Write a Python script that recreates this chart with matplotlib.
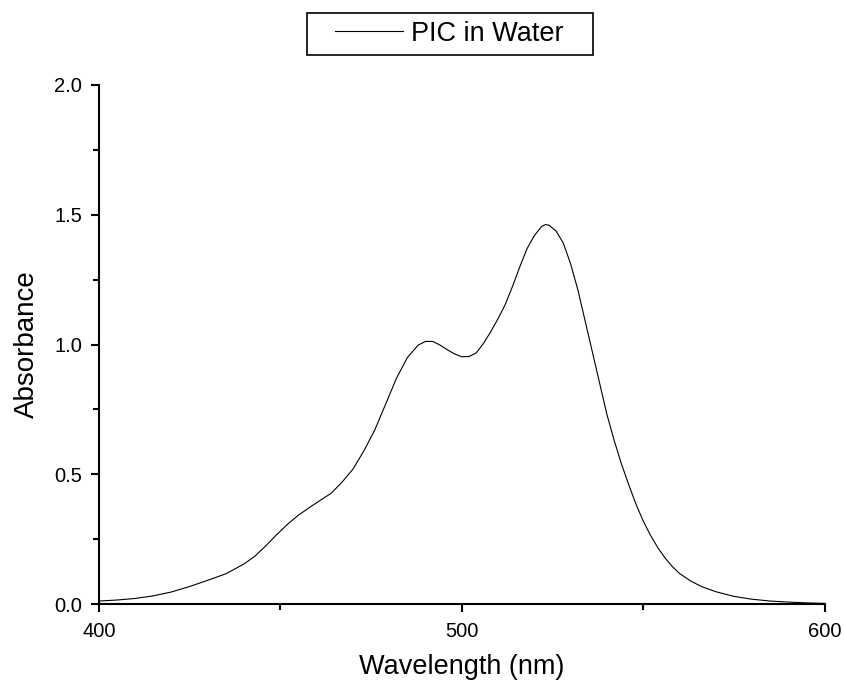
"""Absorption spectrum of PIC in water."""

import matplotlib

matplotlib.use("Agg")
import matplotlib.pyplot as plt
from matplotlib.patches import Rectangle
from matplotlib.ticker import MultipleLocator

# wavelength (nm) and absorbance
wavelength = [
    400, 405, 410, 415, 420, 425, 430, 435, 440, 443, 446, 449, 452, 455,
    458, 461, 464, 467, 470, 473, 476, 479, 482, 485, 488, 490, 492, 494,
    496, 498, 500, 502, 504, 506, 508, 510, 512, 514, 516, 518, 520, 522,
    523, 524, 526, 528, 530, 532, 534, 536, 538, 540, 542, 544, 546, 548,
    550, 552, 554, 556, 558, 560, 563, 566, 570, 575, 580, 585, 590, 595,
    600,
]
absorbance = [
    0.012, 0.016, 0.022, 0.032, 0.047, 0.068, 0.092, 0.117, 0.155, 0.185,
    0.225, 0.268, 0.308, 0.343, 0.372, 0.400, 0.427, 0.470, 0.520, 0.590,
    0.670, 0.770, 0.870, 0.950, 0.998, 1.012, 1.012, 0.998, 0.980, 0.964,
    0.953, 0.954, 0.968, 1.005, 1.050, 1.100, 1.155, 1.225, 1.300, 1.370,
    1.420, 1.455, 1.462, 1.460, 1.437, 1.390, 1.310, 1.210, 1.090, 0.970,
    0.850, 0.730, 0.630, 0.540, 0.460, 0.385, 0.320, 0.265, 0.218, 0.178,
    0.145, 0.118, 0.090, 0.068, 0.048, 0.030, 0.019, 0.012, 0.008, 0.005,
    0.003,
]
series_label = "PIC in Water"

plt.rcParams["font.family"] = ["Liberation Sans", "DejaVu Sans"]

fig = plt.figure(figsize=(8.45, 6.85), dpi=100)
ax = fig.add_axes([0.117, 0.118, 0.859, 0.758])

ax.plot(wavelength, absorbance, color="black", linewidth=0.8, label=series_label)

ax.set_xlim(400, 600)
ax.set_ylim(0, 2.0)
ax.xaxis.set_major_locator(MultipleLocator(100))
ax.xaxis.set_minor_locator(MultipleLocator(50))
ax.yaxis.set_major_locator(MultipleLocator(0.5))
ax.yaxis.set_minor_locator(MultipleLocator(0.25))
ax.yaxis.set_major_formatter(plt.FormatStrFormatter("%.1f"))

for side in ["top", "right"]:
    ax.spines[side].set_visible(False)
for side in ["left", "bottom"]:
    ax.spines[side].set_linewidth(1.5)

ax.tick_params(which="major", direction="out", length=6, width=1.5,
               labelsize=14.5)
ax.tick_params(axis="x", which="major", pad=7)
ax.tick_params(axis="y", which="major", pad=6)
ax.tick_params(which="minor", direction="out", length=4, width=1.5)

ax.set_xlabel("Wavelength (nm)", fontsize=19.5, labelpad=9)
ax.set_ylabel("Absorbance", fontsize=20, labelpad=10)

# legend without its own frame; the box is drawn wider, as in the original
leg = fig.legend(loc="center", bbox_to_anchor=(0.532, 0.951), fontsize=19.5,
                 frameon=False, handlelength=2.5, borderpad=0.25,
                 handletextpad=0.3, borderaxespad=0)
fig.patches.append(Rectangle((307 / 845, 1 - 55 / 685), 286 / 845, 42 / 685,
                             transform=fig.transFigure, fill=False,
                             edgecolor="black", linewidth=1.2))

fig.savefig("out.png", dpi=100)
